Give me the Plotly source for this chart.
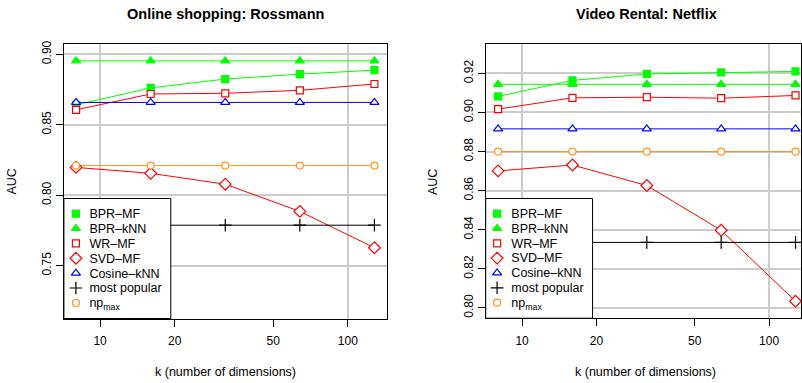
import plotly.graph_objects as go

# ---------------- data ----------------
k_dims = [8, 16, 32, 64, 128]

# Online shopping: Rossmann
ross_bpr_mf = [0.8641, 0.8761, 0.8824, 0.8859, 0.8887]
ross_bpr_knn = [0.8953, 0.8953, 0.8953, 0.8953, 0.8953]
ross_wr_mf = [0.8606, 0.8718, 0.8723, 0.8744, 0.8789]
ross_svd_mf = [0.8197, 0.8155, 0.8078, 0.7885, 0.7627]
ross_cosine_knn = [0.8658, 0.8658, 0.8658, 0.8658, 0.8658]
ross_most_popular = [0.7787, 0.7787, 0.7787, 0.7787, 0.7787]
ross_np_max = [0.8210, 0.8210, 0.8210, 0.8210, 0.8210]

# Video Rental: Netflix
nf_bpr_mf = [0.9082, 0.9164, 0.9197, 0.9205, 0.9210]
nf_bpr_knn = [0.9144, 0.9144, 0.9144, 0.9144, 0.9144]
nf_wr_mf = [0.9017, 0.9075, 0.9078, 0.9073, 0.9087]
nf_svd_mf = [0.8701, 0.8731, 0.8626, 0.8397, 0.8034]
nf_cosine_knn = [0.8916, 0.8916, 0.8916, 0.8916, 0.8916]
nf_most_popular = [0.8335, 0.8335, 0.8335, 0.8335, 0.8335]
nf_np_max = [0.8800, 0.8800, 0.8800, 0.8800, 0.8800]

series_names = ["BPR–MF", "BPR–kNN", "WR–MF", "SVD–MF", "Cosine–kNN",
                "most popular", "np<sub>max</sub>"]
x_tick_vals = [10, 20, 50, 100]
x_tick_text = ["10", "20", "50", "100"]
ross_y_ticks = [0.75, 0.80, 0.85, 0.90]
nf_y_ticks = [0.80, 0.82, 0.84, 0.86, 0.88, 0.90, 0.92]

# ---------------- styles ----------------
GREEN = "#00FF00"
RED = "#FF0000"
BLUE = "#0000FF"
BLACK = "#000000"
ORANGE = "#FF9420"

styles = [
    dict(line=GREEN, symbol="square", fill=GREEN, size=7),
    dict(line=GREEN, symbol="triangle-up", fill=GREEN, size=8),
    dict(line=RED, symbol="square", fill="white", size=7),
    dict(line=RED, symbol="diamond", fill="white", size=9),
    dict(line=BLUE, symbol="triangle-up", fill="white", size=8),
    dict(line=BLACK, symbol="cross-thin", fill=BLACK, size=9),
    dict(line=ORANGE, symbol="circle", fill="white", size=7),
]

FONT = "Liberation Sans, Arial, Helvetica, sans-serif"
W, H = 802, 383


def px_x(p):
    return p / W


def px_y(p):
    return 1 - p / H


fig = go.Figure()

panels = [
    ("x", "y", "x3", "y3", [ross_bpr_mf, ross_bpr_knn, ross_wr_mf, ross_svd_mf,
                            ross_cosine_knn, ross_most_popular, ross_np_max]),
    ("x2", "y2", "x4", "y4", [nf_bpr_mf, nf_bpr_knn, nf_wr_mf, nf_svd_mf,
                              nf_cosine_knn, nf_most_popular, nf_np_max]),
]

for xa, ya, lxa, lya, data in panels:
    # connecting lines
    for name, vals, st in zip(series_names, data, styles):
        fig.add_trace(go.Scatter(
            x=k_dims, y=vals, mode="lines", xaxis=xa, yaxis=ya,
            line=dict(color=st["line"], width=1), showlegend=False,
            hoverinfo="skip"))
    # point symbols
    for name, vals, st in zip(series_names, data, styles):
        mk = dict(symbol=st["symbol"], size=st["size"], color=st["fill"],
                  line=dict(color=st["line"], width=1.2))
        fig.add_trace(go.Scatter(
            x=k_dims, y=vals, mode="markers", name=name, xaxis=xa, yaxis=ya,
            marker=mk, showlegend=False))

# legend keys: one key per series on a small categorical legend subplot
for xa, ya, lxa, lya, data in panels:
    for name, st in zip(series_names, styles):
        mk = dict(symbol=st["symbol"], size=st["size"], color=st["fill"],
                  line=dict(color=st["line"], width=1.2))
        fig.add_trace(go.Scatter(
            x=[0], y=[name], mode="markers", xaxis=lxa, yaxis=lya,
            marker=mk, showlegend=False, hoverinfo="skip"))

axis_common = dict(
    showline=True, linecolor=BLACK, linewidth=1, mirror=True,
    ticks="outside", ticklen=7, tickcolor=BLACK, tickwidth=1,
    tickfont=dict(family=FONT, size=12, color=BLACK),
    zeroline=False,
)
grid_minor = dict(tickmode="array", tickvals=[10, 100], showgrid=True,
                  gridcolor="#CCCCCC", gridwidth=1.5, ticks="")

legend_x = dict(showgrid=False, zeroline=False, showticklabels=False,
                ticks="", showline=False, fixedrange=True)


def legend_y(pos):
    return dict(type="category", categoryorder="array",
                categoryarray=series_names, range=[7.05, -1.02],
                tickmode="array", tickvals=series_names, ticktext=series_names,
                anchor="free", position=pos, side="right",
                showgrid=False, zeroline=False, showline=False, ticks="",
                ticklabelstandoff=0,
                tickfont=dict(family=FONT, size=12.5, color=BLACK),
                fixedrange=True)


# legend boxes (left panel, right panel) in pixel coordinates of the page
leg_boxes = [(64, 171, 197, 318), (486.3, 593.3, 197, 317.7)]

fig.update_layout(
    width=W, height=H,
    margin=dict(l=0, r=0, t=0, b=0),
    paper_bgcolor="white", plot_bgcolor="white",
    font=dict(family=FONT, size=12, color=BLACK),
    showlegend=False,
    xaxis=dict(
        type="log", domain=[px_x(64), px_x(387)], range=[0.854, 2.156],
        anchor="y", tickmode="array", tickvals=x_tick_vals, ticktext=x_tick_text,
        showgrid=False, ticklabelstandoff=4, minor=grid_minor,
        **axis_common),
    yaxis=dict(
        domain=[px_y(318), px_y(41)], range=[0.7125, 0.9075], anchor="x",
        tickmode="array", tickvals=ross_y_ticks, tickformat=".2f",
        tickangle=-90, showgrid=True, gridcolor="#CCCCCC", gridwidth=1.5,
        ticklabelstandoff=0,
        **axis_common),
    xaxis2=dict(
        type="log", domain=[px_x(486.3), 1.0], range=[0.8528, 2.1294],
        anchor="y2", tickmode="array", tickvals=x_tick_vals, ticktext=x_tick_text,
        showgrid=False, ticklabelstandoff=4, minor=grid_minor,
        **axis_common),
    yaxis2=dict(
        domain=[px_y(317.7), px_y(41)], range=[0.7947, 0.9352], anchor="x2",
        tickmode="array", tickvals=nf_y_ticks, tickformat=".2f",
        tickangle=-90, showgrid=True, gridcolor="#CCCCCC", gridwidth=1.5,
        ticklabelstandoff=0,
        **axis_common),
    xaxis3=dict(domain=[px_x(64), px_x(171)], range=[-12, 95], anchor="y3",
                **legend_x),
    yaxis3=dict(domain=[px_y(318), px_y(197)], **legend_y(px_x(88.5))),
    xaxis4=dict(domain=[px_x(486.3), px_x(593.3)], range=[-11.4, 95.6],
                anchor="y4", **legend_x),
    yaxis4=dict(domain=[px_y(317.7), px_y(197)], **legend_y(px_x(511))),
    shapes=[
        dict(type="rect", xref="paper", yref="paper",
             x0=px_x(l), x1=px_x(r), y0=px_y(b), y1=px_y(t),
             line=dict(color=BLACK, width=1), fillcolor="rgba(0,0,0,0)",
             layer="above")
        for (l, r, t, b) in leg_boxes
    ],
    annotations=[
        dict(text="<b>Online shopping: Rossmann</b>", x=px_x(225.5), y=px_y(11.5),
             xref="paper", yref="paper", showarrow=False, xanchor="center",
             yanchor="middle", font=dict(family=FONT, size=14.5, color=BLACK)),
        dict(text="<b>Video Rental: Netflix</b>", x=px_x(647), y=px_y(11.5),
             xref="paper", yref="paper", showarrow=False, xanchor="center",
             yanchor="middle", font=dict(family=FONT, size=14.5, color=BLACK)),
        dict(text="k (number of dimensions)", x=px_x(225.5), y=px_y(372),
             xref="paper", yref="paper", showarrow=False, xanchor="center",
             yanchor="middle", font=dict(family=FONT, size=12.5, color=BLACK)),
        dict(text="k (number of dimensions)", x=px_x(646.7), y=px_y(372),
             xref="paper", yref="paper", showarrow=False, xanchor="center",
             yanchor="middle", font=dict(family=FONT, size=12.5, color=BLACK)),
        dict(text="AUC", x=px_x(12), y=px_y(180), textangle=-90,
             xref="paper", yref="paper", showarrow=False, xanchor="center",
             yanchor="middle", font=dict(family=FONT, size=12.5, color=BLACK)),
        dict(text="AUC", x=px_x(433), y=px_y(180), textangle=-90,
             xref="paper", yref="paper", showarrow=False, xanchor="center",
             yanchor="middle", font=dict(family=FONT, size=12.5, color=BLACK)),
    ],
)

fig.write_html(
    "out.html",
    config={"displayModeBar": False},
    post_script="document.body.style.margin='0';document.body.style.overflow='hidden';",
)
